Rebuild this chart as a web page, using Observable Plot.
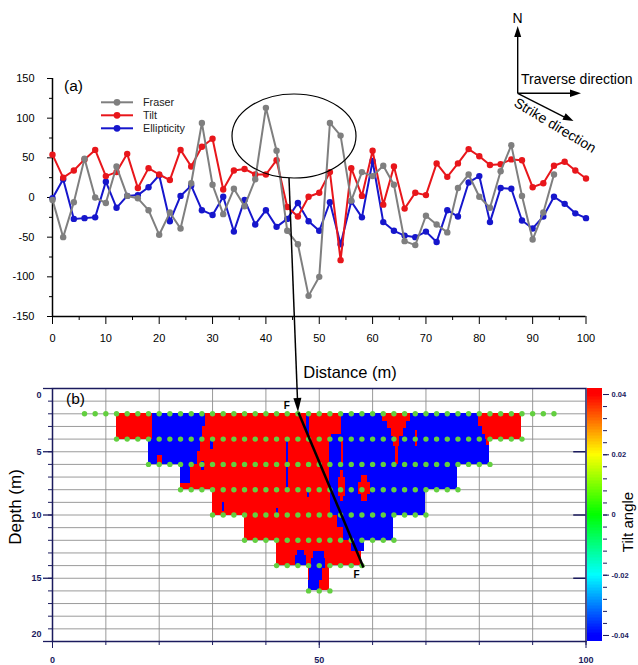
<!DOCTYPE html>
<html>
<head>
<meta charset="utf-8">
<script src="https://cdn.jsdelivr.net/npm/d3@7"></script>
<script src="https://cdn.jsdelivr.net/npm/@observablehq/plot@0.6"></script>
<style>
html, body { margin: 0; padding: 0; background: #fff; }
#wrap { position: relative; width: 638px; height: 665px; overflow: hidden; background: #fff;
        font-family: "Liberation Sans", Arial, Helvetica, sans-serif; }
</style>
</head>
<body>
<div id="wrap"></div>
<script>
// ---------- Panel (a) data ----------
const distance = [0,2,4,6,8,10,12,14,16,18,20,22,24,26,28,30,32,34,36,38,40,42,44,46,48,50,52,54,56,58,60,62,64,66,68,70,72,74,76,78,80,82,84,86,88,90,92,94,96,98,100];
const fraser = [-3,-50,-6,49,0,-7,39,2,-1,-16,-47,-19,-39,18,94,16,-21,11,-11,23,113,59,-42,-59,-124,-100,94,78,-4,32,27,40,16,-55,-60,-23,-34,-44,12,29,1,-13,33,66,2,-53,-19,29];
const tilt = [54,25,34,48,60,27,32,55,12,37,29,22,60,39,64,74,10,34,36,29,29,47,-12,-24,1,6,32,-79,37,2,59,-9,39,-14,6,3,43,26,43,61,52,41,42,48,47,13,18,40,45,34,24];
const ellipticity = [-1,23,-27,-26,-25,20,-13,2,3,13,28,-30,2,15,-16,-22,1,-43,-3,-34,-16,-37,-27,-7,-30,-42,-6,-59,-5,-25,46,-31,-42,-48,-50,-43,-56,-16,-24,19,27,-31,12,11,-29,-39,-24,1,-8,-20,-26];
const seriesNames = ["Fraser", "Tilt", "Ellipticity"];
const seriesColors = ["#7f7f7f", "#e8161b", "#1616cc"];
const yTicksA = [-150,-100,-50,0,50,100,150];
const xTicks = [0,10,20,30,40,50,60,70,80,90,100];

// ---------- Panel (b) data ----------
const rowTop = [2,4,6,8,10,12,14];
const rowStart = [12,18,24,30,36,42,48];
const rowEnd = [88,82,76,70,64,58,52];
// blue (negative tilt) zones: [x1, x2, depthTop, depthBottom]
const blueZones = [
  [18.8,28.6,2,3],[18.7,28.2,3,4],[18,27.7,4,5],[18,27.2,5,6],[24,25.8,6,7.5],
  [54.2,79.8,2,3],[54.2,80.6,3,3.6],[52.3,81.2,3.6,4],[52,81.4,4,4.5],[52,81.9,4.5,5],[52,82,5,6],
  [52,76,6,8],[52.2,70,8,10],[53.4,64,10,11],[54.5,64,11,12],[56,58.5,12,12.9],
  [46,47.2,12.8,13.2],[45.6,47.6,13.2,14],
  [49,51,12.9,13.4],[48.6,51.2,13.4,14.2],[48.2,50.6,14.2,15.2],[48,50,15.2,16],
  [43.8,44.2,4,8.1],[47.7,48.1,2,3.6],[29.7,30.1,4,4.8],[27.9,28.4,5.8,6.5],
  [47.8,48.2,7.8,8.6],[31.9,32.3,9,9.7],[41.9,42.3,9.5,10.1]
];
// red (positive tilt) patches inside blue zones
const redZones = [
  [19.6,20.7,5.3,6],
  [61.8,67.1,2,2.6],[62.8,66.3,2.6,3.2],[63.5,65.7,3.2,3.8],[64,65.1,3.8,4.6],[64.3,64.8,4.6,6],
  [68,68.5,3.3,4.6],
  [53.9,54.6,6.5,7],[53.6,54.9,7,8.5],[53.9,54.6,8.5,8.9],
  [58,59,6.9,7.4],[57.4,59.6,7.4,8.4],[58,59,8.4,8.9],
  [54.1,54.5,3.9,6.2]
];
const dotDepth = [2,4,6,8,10,12,14,16];
const dotFrom = [6,12,18,24,30,36,42,48];
const dotTo = [94,88,82,76,70,64,58,52];
const depthTicks = [0,5,10,15,20];
const cbTicks = [-0.04,-0.02,0,0.02,0.04];
const faultLine = [{x1:46.1, y1:1.9, x2:58.3, y2:14.15}];
const faultLabels = [{x:43.9, y:1.35, t:"F"}, {x:57.0, y:14.75, t:"F"}];
const tiltMax = 0.045, tiltMin = -0.045;

// ---------- common ----------
const font = "'Liberation Sans', Arial, Helvetica, sans-serif";
const navy = "#1b1b5e";
const colorOpts = {
  type: "linear",
  domain: [-0.04, -0.02, 0, 0.02, 0.04],
  range: ["#0000ff", "#00ffff", "#00ff00", "#ffff00", "#ff0000"],
  clamp: true
};
const wrap = document.getElementById("wrap");
function place(el, left, top) {
  el.style.position = "absolute";
  el.style.left = left + "px";
  el.style.top = top + "px";
  wrap.appendChild(el);
}

// ---------- Panel (a) ----------
const seriesData = [fraser, tilt, ellipticity].map((vals) => vals.map((v, i) => ({x: distance[i], y: v})));
const lineMarks = [];
[2, 1, 0].forEach((k) => {
  lineMarks.push(Plot.line(seriesData[k], {x: "x", y: "y", stroke: seriesColors[k], strokeWidth: 2}));
  lineMarks.push(Plot.dot(seriesData[k], {x: "x", y: "y", r: 3.2, fill: seriesColors[k]}));
});
const plotA = Plot.plot({
  width: 638, height: 390,
  marginLeft: 52, marginRight: 52.5, marginTop: 78, marginBottom: 74,
  style: {fontFamily: font, color: "#000", background: "transparent", overflow: "visible"},
  x: {domain: [0, 100], axis: null},
  y: {domain: [-150, 150], axis: null},
  marks: [
    Plot.axisY({ticks: yTicksA, tickSize: 5, tickPadding: 13, fontSize: 11, tickFormat: (d) => String(d), label: null}),
    Plot.axisY({ticks: d3.range(-125, 150, 50), tickSize: 3, tickFormat: () => "", label: null}),
    Plot.axisX({ticks: xTicks, tickSize: 8, tickPadding: 10, fontSize: 11, tickFormat: (d) => String(d), label: null}),
    Plot.axisX({ticks: d3.range(5, 100, 10), tickSize: 4, tickFormat: () => "", label: null}),
    Plot.ruleX([0], {stroke: "#000", strokeWidth: 1.5}),
    Plot.ruleY([-150], {stroke: "#000", strokeWidth: 1.5}),
    ...lineMarks
  ]
});
place(plotA, 0, 0);

// ---------- Panel (b) ----------
const baseRows = rowTop.map((d, i) => ({x1: rowStart[i], x2: rowEnd[i], y1: d, y2: d + 2, v: tiltMax}));
const blueRows = blueZones.map(([x1, x2, y1, y2]) => ({x1, x2, y1, y2, v: tiltMin}));
const redRows = redZones.map(([x1, x2, y1, y2]) => ({x1, x2, y1, y2, v: tiltMax}));
const dots = dotDepth.flatMap((d, i) => d3.range(dotFrom[i], dotTo[i] + 0.1, 2).map((x) => ({x, y: d})));
const plotB = Plot.plot({
  width: 638, height: 285,
  marginLeft: 52, marginRight: 52.5, marginTop: 8, marginBottom: 24,
  style: {fontFamily: font, color: navy, background: "transparent", overflow: "visible"},
  x: {domain: [0, 100], axis: null},
  y: {domain: [0, 20], reverse: true, axis: null},
  color: colorOpts,
  marks: [
    Plot.ruleY(d3.range(1, 20), {stroke: "#8e8e8e", strokeWidth: 0.9}),
    Plot.ruleX(d3.range(10, 100, 10), {stroke: "#8e8e8e", strokeWidth: 0.9}),
    Plot.rect(baseRows, {x1: "x1", x2: "x2", y1: "y1", y2: "y2", fill: "v", shapeRendering: "crispEdges"}),
    Plot.rect(blueRows, {x1: "x1", x2: "x2", y1: "y1", y2: "y2", fill: "v", shapeRendering: "crispEdges"}),
    Plot.rect(redRows, {x1: "x1", x2: "x2", y1: "y1", y2: "y2", fill: "v", shapeRendering: "crispEdges"}),
    Plot.dot(dots, {x: "x", y: "y", r: 2.7, fill: "#63cf40"}),
    Plot.link(faultLine, {x1: "x1", y1: "y1", x2: "x2", y2: "y2", stroke: "#000", strokeWidth: 2.5}),
    Plot.text(faultLabels, {x: "x", y: "y", text: "t", fontSize: 10, fontWeight: "bold", fill: "#000"}),
    Plot.frame({stroke: navy, strokeWidth: 1.5}),
    Plot.axisY({ticks: depthTicks, tickSize: 9, tickFormat: () => "", label: null, strokeWidth: 1.3}),
    Plot.axisY({ticks: d3.range(0, 21, 1), tickSize: 4, tickFormat: () => "", label: null}),
    Plot.ruleY([5, 10, 15], {x1: 97.7, x2: 100, stroke: navy, strokeWidth: 1.5}),
    Plot.axisX({ticks: xTicks, tickSize: 4, tickFormat: () => "", label: null}),
    Plot.axisX({ticks: [0, 50, 100], tickSize: 7, tickPadding: 8, fontSize: 9, fontWeight: "bold", tickFormat: (d) => String(d), label: null}),
    Plot.text([5, 10, 15], {x: 0, y: (d) => d, text: (d) => String(d), dx: -11, textAnchor: "end", fontSize: 9, fontWeight: "bold", fill: navy}),
    Plot.text([0], {x: 0, y: (d) => d, text: (d) => String(d), dx: -11, dy: 7, textAnchor: "end", fontSize: 9, fontWeight: "bold", fill: navy}),
    Plot.text([20], {x: 0, y: (d) => d, text: (d) => String(d), dx: -11, dy: -7, textAnchor: "end", fontSize: 9, fontWeight: "bold", fill: navy})
  ]
});
place(plotB, 0, 380);

// ---------- Colour bar ----------
const cbStep = 0.0005;
const cbRows = d3.range(-0.042, 0.042 - 1e-9, cbStep).map((v) => ({y1: v, y2: v + cbStep, v: v + cbStep / 2}));
const plotC = Plot.plot({
  width: 68, height: 285,
  marginLeft: 17, marginRight: 36, marginTop: 8, marginBottom: 24,
  style: {fontFamily: font, color: navy, background: "transparent", overflow: "visible"},
  x: {domain: [0, 1], axis: null},
  y: {domain: [-0.042, 0.042], axis: null},
  color: colorOpts,
  marks: [
    Plot.rect(cbRows, {x1: 0, x2: 1, y1: "y1", y2: "y2", fill: "v", shapeRendering: "crispEdges"}),
    Plot.axisY({anchor: "right", ticks: d3.range(-10, 11).map((k) => k * 0.004), tickSize: 4, tickFormat: () => "", label: null}),
    Plot.axisY({anchor: "right", ticks: cbTicks, tickSize: 6, tickPadding: 3, fontSize: 7.5, fontWeight: "bold",
      tickFormat: (d) => (Math.abs(d) < 1e-9 ? "0" : d.toFixed(2)), label: null})
  ]
});
place(plotC, 570, 380);

// ---------- Annotations overlay ----------
const ov = d3.create("svg").attr("width", 638).attr("height", 665)
  .style("position", "absolute").style("left", "0px").style("top", "0px")
  .style("pointer-events", "none").style("font-family", font);
const txt = (x, y, s, size, extra = {}) => {
  const t = ov.append("text").attr("x", x).attr("y", y).attr("font-size", size).attr("fill", "#000").text(s);
  for (const [k, v] of Object.entries(extra)) t.attr(k, v);
  return t;
};
// compass
ov.append("line").attr("x1", 517.7).attr("y1", 93.3).attr("x2", 517.7).attr("y2", 34).attr("stroke", "#000").attr("stroke-width", 1.4);
ov.append("path").attr("d", "M517.7,26 L514.2,37 L521.2,37 Z").attr("fill", "#000");
ov.append("line").attr("x1", 517.7).attr("y1", 93.3).attr("x2", 571).attr("y2", 93.3).attr("stroke", "#000").attr("stroke-width", 1.4);
ov.append("path").attr("d", "M581,93.3 L570,89.6 L570,97 Z").attr("fill", "#000");
ov.append("line").attr("x1", 517.7).attr("y1", 93.3).attr("x2", 565).attr("y2", 117.3).attr("stroke", "#000").attr("stroke-width", 1.4);
ov.append("path").attr("d", "M573.5,121 L562.4,119.7 L565.7,113.2 Z").attr("fill", "#000");
txt(512.5, 23, "N", 14);
txt(521, 84, "Traverse direction", 14);
txt(0, 0, "Strike direction", 14, {transform: "translate(513,105.5) rotate(31)"});
// panel labels
txt(64, 91, "(a)", 15.5);
txt(66, 404, "(b)", 15.5);
// legend
seriesNames.forEach((name, i) => {
  const y = 102.3 + i * 13;
  ov.append("line").attr("x1", 101).attr("x2", 133).attr("y1", y).attr("y2", y).attr("stroke", seriesColors[i]).attr("stroke-width", 2);
  ov.append("circle").attr("cx", 117).attr("cy", y).attr("r", 3.4).attr("fill", seriesColors[i]);
  txt(143, y + 3.8, name, 10.8, {fill: "#222"});
});
// ellipse highlight and connector arrow
ov.append("ellipse").attr("cx", 294).attr("cy", 136).attr("rx", 62).attr("ry", 42).attr("fill", "none").attr("stroke", "#000").attr("stroke-width", 1.2);
ov.append("line").attr("x1", 289).attr("y1", 178).attr("x2", 297.5).attr("y2", 400).attr("stroke", "#000").attr("stroke-width", 1.5);
ov.append("path").attr("d", "M298,412 L293.4,398.2 L301.4,397.8 Z").attr("fill", "#000");
// axis titles
txt(350, 378, "Distance (m)", 16.5, {"text-anchor": "middle"});
txt(0, 0, "Depth (m)", 17, {transform: "translate(21,507) rotate(-90)", "text-anchor": "middle"});
txt(0, 0, "Tilt angle", 15, {transform: "translate(633,522) rotate(-90)", "text-anchor": "middle"});
wrap.appendChild(ov.node());
</script>
</body>
</html>
